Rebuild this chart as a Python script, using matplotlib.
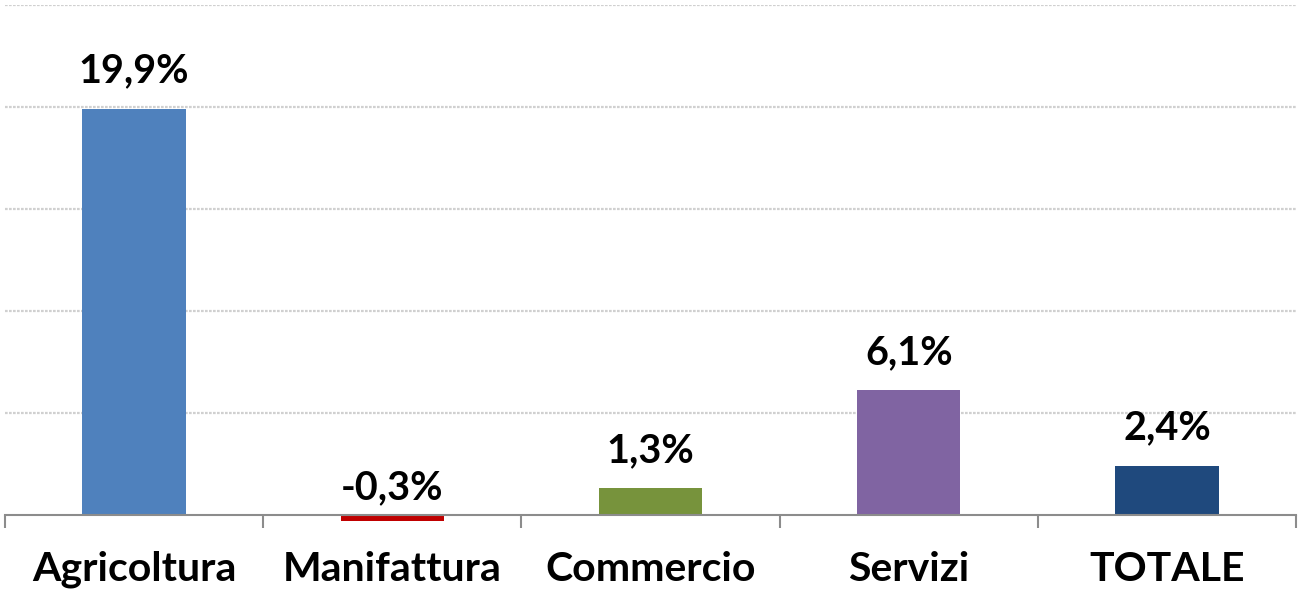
import numpy as np
import matplotlib
matplotlib.use("Agg")
import matplotlib.pyplot as plt

categories = ["Agricoltura", "Manifattura", "Commercio", "Servizi", "TOTALE"]
values = [19.9, -0.3, 1.3, 6.1, 2.4]
colors = ["#4F81BD", "#C00000", "#77933C", "#8064A2", "#1F497D"]

plt.rcParams["font.family"] = ["Lato", "DejaVu Sans"]

fig = plt.figure(figsize=(12.99, 6.15), dpi=100)
ax = fig.add_axes([5 / 1299, 90 / 615, 1291 / 1299, 520 / 615])

x = np.arange(len(categories))
ax.bar(x, values, width=0.4, color=colors, zorder=3)

ax.set_xlim(-0.5, len(categories) - 0.5)
ax.set_ylim(-0.5, 25)
ax.set_yticks([5, 10, 15, 20, 25])
ax.yaxis.grid(True, color="#D0D0D0", lw=1.6, ls=(0, (1.2, 0.6)), zorder=0)
ax.tick_params(axis="y", left=False, labelleft=False)

for s in ["top", "right", "left"]:
    ax.spines[s].set_visible(False)
ax.spines["bottom"].set_position(("data", 0))
ax.spines["bottom"].set_color("#8C8C8C")
ax.spines["bottom"].set_linewidth(1.5)
ax.spines["bottom"].set_zorder(4)

# category boundaries as ticks, names as minor labels
ax.set_xticks(np.arange(-0.5, len(categories), 1.0))
ax.tick_params(axis="x", which="major", length=9, width=1.5, color="#8C8C8C",
               direction="out", labelbottom=False)
ax.set_xticks(x, minor=True)
ax.set_xticklabels(categories, minor=True, fontsize=29.5, fontweight="bold")
ax.tick_params(axis="x", which="minor", length=0, pad=26)

for xi, v in zip(x, values):
    off = 14 if v >= 0 else 6
    ax.annotate(f"{v:.1f}%".replace(".", ","), (xi, max(v, 0)),
                xytext=(0, off), textcoords="offset points",
                ha="center", va="bottom", fontsize=28.5, fontweight="bold")

fig.savefig("out.png", dpi=100)
